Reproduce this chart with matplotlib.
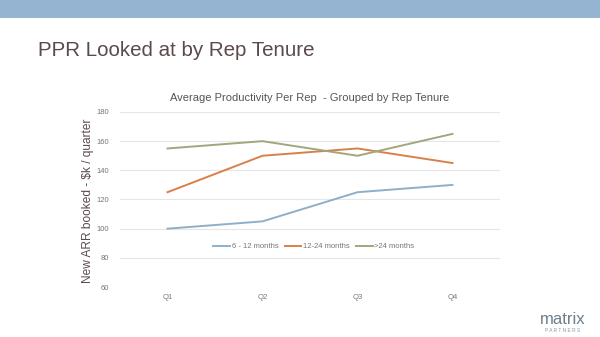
import matplotlib
matplotlib.use("Agg")
import matplotlib.pyplot as plt
from matplotlib.patches import Rectangle

plt.rcParams['font.family'] = ['Liberation Sans', 'DejaVu Sans']

quarters = ["Q1", "Q2", "Q3", "Q4"]
series_names = ["6 - 12 months", "12-24 months", ">24 months"]
s_6_12 = [100, 105, 125, 130]
s_12_24 = [125, 150, 155, 145]
s_24_plus = [155, 160, 150, 165]
yticks = [60, 80, 100, 120, 140, 160, 180]
colors = ["#8FAFC9", "#D9804A", "#A2A67E"]

fig = plt.figure(figsize=(6, 3.37), dpi=100)
fig.patch.set_facecolor("white")

# top banner
fig.add_artist(Rectangle((0, 1 - 18 / 337), 1, 18 / 337, transform=fig.transFigure,
                         facecolor="#94B4D1", edgecolor="none"))

fig.text(38 / 600, 1 - 50 / 337, "PPR Looked at by Rep Tenure", fontsize=14.8,
         color="#5B4A4A", ha="left", va="center")

ax = fig.add_axes([120 / 600, 1 - 287 / 337, 380 / 600, 175 / 337])
x = list(range(len(quarters)))
for vals, name, c in zip([s_6_12, s_12_24, s_24_plus], series_names, colors):
    ax.plot(x, vals, color=c, lw=1.4, label=name)

ax.set_xlim(-0.5, len(quarters) - 0.5)
ax.set_ylim(60, 180)
ax.set_yticks(yticks)
ax.set_xticks(x)
ax.set_xticklabels(quarters)
ax.tick_params(axis="both", length=0, labelsize=5.5, colors="#777777")
ax.tick_params(axis="y", pad=8)
ax.tick_params(axis="x", pad=5)
ax.grid(axis="y", color="#E6E6E6", lw=0.8)
for s in ax.spines.values():
    s.set_visible(False)
ax.set_axisbelow(True)

ax.set_title("Average Productivity Per Rep  - Grouped by Rep Tenure", fontsize=8,
             color="#555555", pad=8)
ax.text(-0.084, 0.49, "New ARR booked - $k / quarter", transform=ax.transAxes,
        rotation=90, ha="center", va="center", fontsize=8.6, color="#5B4A4A")

ax.legend(loc="center", bbox_to_anchor=(0.51, 0.23), ncol=3, frameon=False,
          fontsize=5.5, labelcolor="#777777", handlelength=2.2, handletextpad=0.2,
          columnspacing=0.8)

fig.text(563 / 600, 1 - 319 / 337, "matrix", fontsize=12, color="#6C7F8E",
         ha="center", va="center")
fig.text(563 / 600, 1 - 331 / 337, "P A R T N E R S", fontsize=3.5, color="#8A99A6",
         ha="center", va="center")

fig.savefig("out.png", dpi=100)
